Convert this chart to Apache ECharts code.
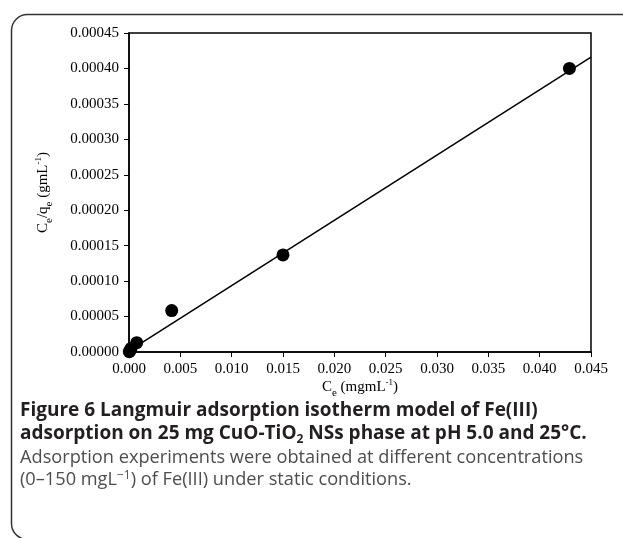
<!DOCTYPE html>
<html>
<head>
<meta charset="utf-8">
<script src="https://cdn.jsdelivr.net/npm/echarts@6/dist/echarts.min.js"></script>
<style>
html,body{margin:0;padding:0;background:#fff;}
#chart{width:623px;height:538px;}
</style>
</head>
<body>
<div id="chart"></div>
<script>
// Measured points (Ce in mg/mL, Ce/qe in g/mL)
var ceValues = [0.00003, 0.0001, 0.0002, 0.00075, 0.00416, 0.0150, 0.0429];
var ceqeValues = [0.0000004, 0.000002, 0.000005, 0.0000131, 0.0000585, 0.000137, 0.000400];
// Linear fit line endpoints
var fitX = [0.0, 0.045];
var fitY = [0.0000017, 0.000416];
// Axis tick ranges
var xTicks = [0, 0.045, 0.005];
var yTicks = [0, 0.00045, 0.00005];

var pts = ceValues.map(function(v, i){ return [v, ceqeValues[i]]; });
var fit = fitX.map(function(v, i){ return [v, fitY[i]]; });

var chart = echarts.init(document.getElementById('chart'), null, {renderer:'canvas'});
var serif = '"Liberation Serif", "Times New Roman", serif';
var sans = '"Open Sans", "Noto Sans", sans-serif';

function nameRich(){
  return {
    m:{fontFamily:serif, fontSize:15, color:'#000', lineHeight:20, verticalAlign:'middle'},
    sub:{fontFamily:serif, fontSize:11, color:'#000', lineHeight:20, verticalAlign:'bottom', padding:[0,0,-2,0]},
    sup:{fontFamily:serif, fontSize:9, color:'#000', lineHeight:20, verticalAlign:'top', padding:[1,0,0,0]}
  };
}

chart.setOption({
  animation:false,
  backgroundColor:'#fff',
  grid:{left:129, right:32, top:33, bottom:186, show:true, borderColor:'#000', borderWidth:1.5, backgroundColor:'transparent'},
  xAxis:{
    type:'value', min:xTicks[0], max:xTicks[1], interval:xTicks[2],
    axisLine:{show:true, onZero:false, lineStyle:{color:'#000', width:1.5}},
    axisTick:{show:true, length:5, lineStyle:{color:'#000', width:1}},
    splitLine:{show:false},
    axisLabel:{color:'#000', fontFamily:serif, fontSize:15, margin:10,
      formatter:function(v){ return v.toFixed(3); }},
    name:'{m|C}{sub|e}{m| (mgmL}{sup|-1}{m|)}',
    nameLocation:'middle', nameGap:25, nameMoveOverlap:false,
    nameTextStyle:{fontFamily:serif, color:'#000', rich:nameRich()}
  },
  yAxis:{
    type:'value', min:yTicks[0], max:yTicks[1], interval:yTicks[2],
    axisLine:{show:true, onZero:false, lineStyle:{color:'#000', width:1.5}},
    axisTick:{show:true, length:5, lineStyle:{color:'#000', width:1}},
    splitLine:{show:false},
    axisLabel:{color:'#000', fontFamily:serif, fontSize:15, margin:10,
      formatter:function(v){ return v.toFixed(5); }},
    name:'{m|C}{sub|e}{m|/q}{sub|e}{m| (gmL}{sup|-1}{m|)}',
    nameLocation:'middle', nameGap:76, nameRotate:90,
    nameTextStyle:{fontFamily:serif, color:'#000', rich:nameRich()}
  },
  series:[
    {type:'line', data:fit, showSymbol:false, symbol:'none', lineStyle:{color:'#000', width:1.5}, z:2, silent:true},
    {type:'scatter', data:pts, symbol:'circle', symbolSize:13, itemStyle:{color:'#000', opacity:1}, z:3}
  ],
  graphic:[
    {type:'rect', left:9, top:12, shape:{x:0, y:0, width:700, height:525, r:16},
     style:{fill:'none', stroke:'#333', lineWidth:1.5}, z:-1, silent:true},
    {type:'text', left:20, top:401, style:{
      text:'{b|Figure 6 Langmuir adsorption isotherm model of Fe(III)}\n{b|adsorption on 25 mg CuO-TiO}{bs|2}{b| NSs phase at pH 5.0 and 25°C.}',
      rich:{
        b:{fontFamily:sans, fontWeight:'bold', fontSize:19, fill:'#231f20', lineHeight:23, verticalAlign:'middle'},
        bs:{fontFamily:sans, fontWeight:'bold', fontSize:12, fill:'#231f20', lineHeight:23, verticalAlign:'bottom', padding:[0,0,-1,0]}
      }
    }},
    {type:'text', left:20, top:449, style:{
      text:'{r|Adsorption experiments were obtained at different concentrations}\n{r|(0–150 mgL}{rs|−1}{r|) of Fe(III) under static conditions.}',
      rich:{
        r:{fontFamily:sans, fontSize:18.2, fill:'#4d4d4d', lineHeight:22, verticalAlign:'middle'},
        rs:{fontFamily:sans, fontSize:12, fill:'#4d4d4d', lineHeight:22, verticalAlign:'top', padding:[1,0,0,0]}
      }
    }}
  ]
});
</script>
</body>
</html>
